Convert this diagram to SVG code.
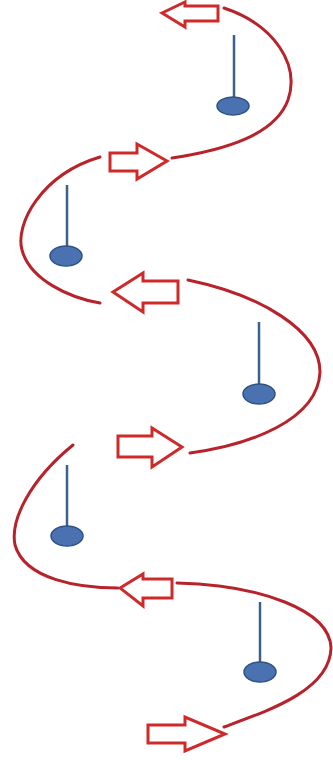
<svg xmlns="http://www.w3.org/2000/svg" width="333" height="760" viewBox="0 0 333 760">
<style>
.curve{fill:none;stroke:#b8232b;stroke-width:3;stroke-linecap:round}
.arrow{fill:#fff;stroke:#cf2a2a;stroke-width:3;stroke-linejoin:miter}
.stem{stroke:#3d5f8c;stroke-width:2.5}
.head{fill:#4a72b0;stroke:#2f5285;stroke-width:1.5}
</style>
<rect width="333" height="760" fill="#fff"/>
<g id="connectors">
<path class="curve" d="M224,8 C275,25 300,65 288,100 C275,135 225,150 172,158"/>
<path class="curve" d="M100,157 C40,175 15,225 22,250 C30,280 70,298 100,303"/>
<path class="curve" d="M188,280 C260,295 320,330 320,372 C318,420 250,445 190,453"/>
<path class="curve" d="M73,445 C30,480 10,520 15,545 C25,580 80,588 118,588"/>
<path class="curve" d="M177,583 C260,585 330,610 331,648 C330,690 270,710 224,727"/>
</g>
<g id="arrow1"><polygon class="arrow" points="162,13 185,2 185,6 218,6 218,21 185,21 185,27"/></g>
<g id="arrow2"><polygon class="arrow" points="110,153 137,153 137,144 167,161 137,179 137,171 110,171"/></g>
<g id="arrow3"><polygon class="arrow" points="113,292 143,273 143,281 178,281 178,303 143,303 143,312"/></g>
<g id="arrow4"><polygon class="arrow" points="118,436 152,436 152,428 182,447 152,467 152,457 118,457"/></g>
<g id="arrow5"><polygon class="arrow" points="120,588 143,574 143,579 172,579 172,598 143,598 143,606"/></g>
<g id="arrow6"><polygon class="arrow" points="148,725 185,725 185,717 225,734 185,751 185,743 148,743"/></g>
<g id="pin1"><line class="stem" x1="234" y1="35" x2="234" y2="104"/><ellipse class="head" cx="233" cy="106" rx="16" ry="9"/></g>
<g id="pin2"><line class="stem" x1="67" y1="185" x2="67" y2="254"/><ellipse class="head" cx="66" cy="256" rx="16" ry="10"/></g>
<g id="pin3"><line class="stem" x1="259" y1="322" x2="259" y2="392"/><ellipse class="head" cx="259" cy="394" rx="16" ry="10"/></g>
<g id="pin4"><line class="stem" x1="67" y1="465" x2="67" y2="534"/><ellipse class="head" cx="67" cy="536" rx="16" ry="10"/></g>
<g id="pin5"><line class="stem" x1="260" y1="602" x2="260" y2="670"/><ellipse class="head" cx="260" cy="672" rx="16" ry="10"/></g>
</svg>
